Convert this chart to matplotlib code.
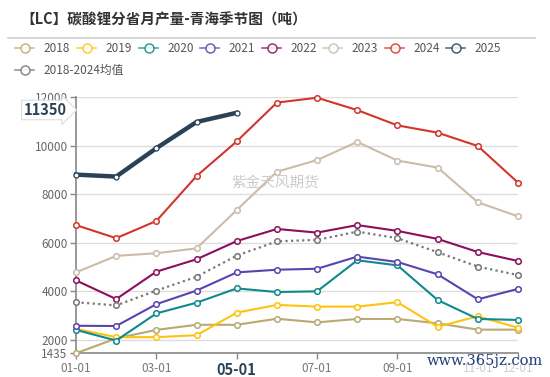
import matplotlib
matplotlib.use("Agg")
import matplotlib.pyplot as plt
from matplotlib.lines import Line2D

plt.rcParams['font.family'] = ['Noto Sans CJK SC', 'DejaVu Sans']

months = ["01-01", "02-01", "03-01", "04-01", "05-01", "06-01",
          "07-01", "08-01", "09-01", "10-01", "11-01", "12-01"]

y2018 = [1435, 2050, 2400, 2610, 2610, 2860, 2710, 2850, 2850, 2670, 2410, 2410]
y2019 = [2440, 2100, 2100, 2180, 3110, 3430, 3360, 3360, 3540, 2530, 2960, 2490]
y2020 = [2400, 1960, 3080, 3520, 4110, 3960, 3990, 5270, 5060, 3630, 2850, 2810]
y2021 = [2570, 2560, 3460, 4020, 4770, 4880, 4920, 5420, 5200, 4690, 3660, 4090]
y2022 = [4440, 3670, 4800, 5310, 6060, 6560, 6410, 6720, 6480, 6150, 5610, 5240]
y2023 = [4770, 5450, 5560, 5760, 7340, 8920, 9400, 10150, 9380, 9090, 7660, 7080]
y2024 = [6720, 6180, 6890, 8740, 10170, 11770, 11970, 11460, 10830, 10530, 9980, 8470]
y2025 = [8800, 8720, 9890, 10970, 11350]
avg = [3540, 3410, 4020, 4590, 5460, 6050, 6110, 6450, 6180, 5600, 5010, 4660]

names = ["2018", "2019", "2020", "2021", "2022", "2023", "2024", "2025", "2018-2024均值"]
colors = ["#b8aa72", "#ffc20e", "#0e8a8c", "#5a43b0", "#8c0f5e",
          "#cbbcaa", "#d3342c", "#2b4256", "#777777"]
series = [y2018, y2019, y2020, y2021, y2022, y2023, y2024, y2025, avg]

W, H = 550, 377
fig = plt.figure(figsize=(5.5, 3.77), dpi=100)

def fx(x):
    return x / W

def fy(y):
    return 1 - y / H

ax = fig.add_axes([fx(76), fy(353.3), fx(518) - fx(76), fy(97) - fy(353.3)])

x = list(range(1, 13))
for i, (s, c) in enumerate(zip(series, colors)):
    xs = x[:len(s)]
    if names[i] == "2025":
        ax.plot(xs, s, color=c, lw=3.2, marker="o", ms=3.6, mfc="white",
                mec=c, mew=0.9, zorder=10, clip_on=False)
    elif names[i].startswith("2018-"):
        ax.plot(xs, s, color=c, lw=1.6, ls=(0, (1, 1.5)), marker="o", ms=4,
                mfc="white", mec=c, mew=1.1, zorder=5, clip_on=False)
    else:
        ax.plot(xs, s, color=c, lw=1.5, marker="o", ms=4, mfc="white",
                mec=c, mew=1.1, zorder=4 + i * 0.1, clip_on=False)

ax.set_xlim(1, 12)
ax.set_ylim(1435, 12000)
yt = [1435, 2000, 4000, 6000, 8000, 10000, 12000]
ax.set_yticks(yt)
ax.set_yticklabels([str(v) for v in yt], color="#666666", fontsize=8.5)
ax.yaxis.grid(True, color="#dddddd", lw=1)
ax.set_axisbelow(True)
xt = [1, 3, 5, 7, 9, 11, 12]
ax.set_xticks(xt)
ax.set_xticklabels([months[i - 1] for i in xt], color="#777777", fontsize=8.5)
for lab in ax.get_xticklabels():
    if lab.get_text() == "05-01":
        lab.set_fontweight("bold")
        lab.set_fontsize(10.5)
        lab.set_color("#2b4256")
    if lab.get_text() in ("11-01", "12-01"):
        lab.set_color("#cfcfcf")
ax.tick_params(axis="both", length=4, color="#888888", width=1)
ax.tick_params(axis="y", pad=2)
ax.tick_params(axis="x", pad=2)
for sp in ["top", "right"]:
    ax.spines[sp].set_visible(False)
ax.spines["left"].set_color("#888888")
ax.spines["bottom"].set_color("#888888")
ax.spines["left"].set_linewidth(1.2)
ax.spines["bottom"].set_linewidth(1.2)

# axis pointer label for latest 2025 value
ax.annotate(str(y2025[-1]), xy=(0, 11350), xycoords=("axes fraction", "data"),
            xytext=(-7, 2), textcoords="offset points", ha="right", va="center",
            fontsize=10.5, fontweight="bold", color="#2b4256", zorder=20,
            bbox=dict(boxstyle="rarrow,pad=0.12", fc="white", ec="#dddddd", lw=0.8),
            annotation_clip=False)

# title
fig.text(fx(20), fy(20), "【LC】碳酸锂分省月产量-青海季节图（吨）", fontsize=10.5,
         fontweight="bold", color="#333333", va="center", ha="left")
fig.add_artist(Line2D([fx(8), fx(535)], [fy(38), fy(38)], color="#d0d0d0",
                      lw=1.2, transform=fig.transFigure))

# legend
lx = [15, 77, 139, 200, 262, 323, 385, 446, 15]
ly = [48, 48, 48, 48, 48, 48, 48, 48, 70]
for i in range(len(names)):
    x0, y0 = lx[i], ly[i]
    fig.add_artist(Line2D([fx(x0), fx(x0 + 19)], [fy(y0), fy(y0)],
                          color=colors[i], lw=1.2, alpha=0.75,
                          transform=fig.transFigure))
    fig.add_artist(Line2D([fx(x0 + 9.5)], [fy(y0)], marker="o", ms=6.5,
                          mfc="white", mec=colors[i], mew=1.1, alpha=0.85,
                          transform=fig.transFigure))
    fig.text(fx(x0 + 28), fy(y0), names[i], fontsize=8.5, color="#555555",
             va="center", ha="left")

# watermarks
fig.text(fx(275), fy(183), "紫金天风期货", fontsize=10.5, color="#cccccc",
         ha="center", va="center", zorder=1)
fig.text(fx(485), fy(361), "www.365jz.com", fontsize=10.5, color="#1d3e78",
         family="DejaVu Serif", ha="center", va="center", zorder=30)

fig.savefig("out.png", dpi=100)
